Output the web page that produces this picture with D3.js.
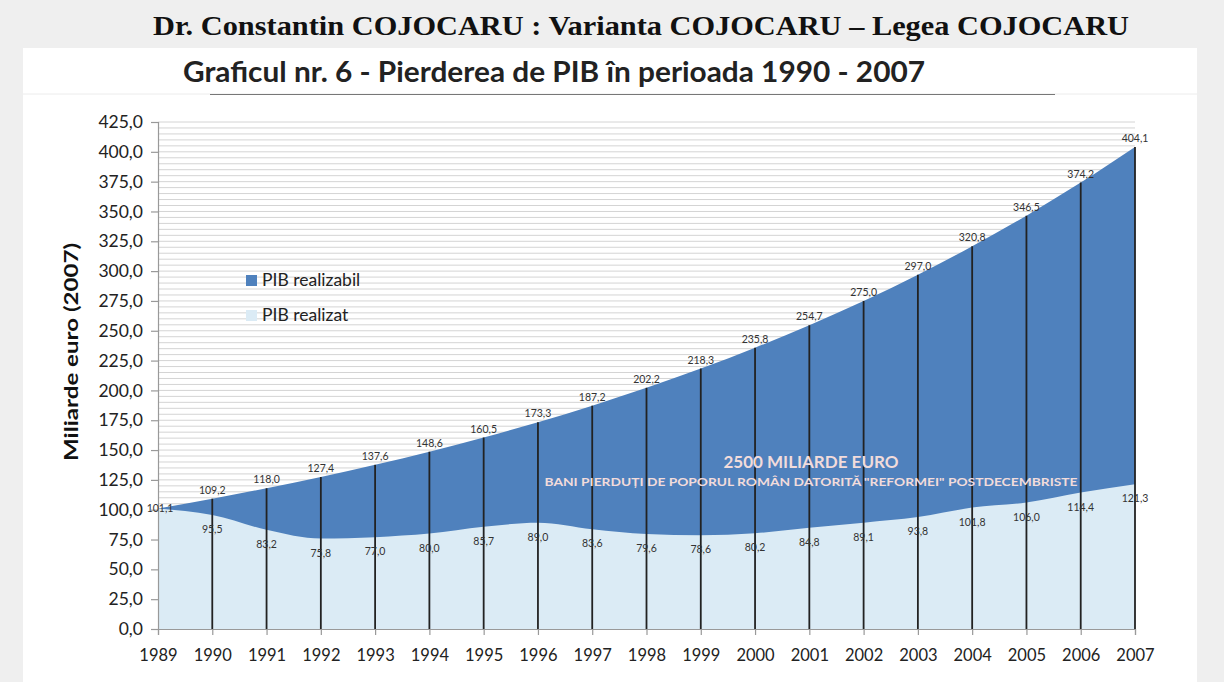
<!DOCTYPE html>
<html><head><meta charset="utf-8">
<script src="https://cdn.jsdelivr.net/npm/d3@7"></script>
<style>
html,body{margin:0;padding:0;background:#efefef;}
svg{display:block;}
</style></head>
<body>
<svg id="c" width="1224" height="682"></svg>
<script>
const years = [1989,1990,1991,1992,1993,1994,1995,1996,1997,1998,1999,2000,2001,2002,2003,2004,2005,2006,2007];
const pibRealizabil = [101.1,109.2,118.0,127.4,137.6,148.6,160.5,173.3,187.2,202.2,218.3,235.8,254.7,275.0,297.0,320.8,346.5,374.2,404.1];
const pibRealizat = [101.1,95.5,83.2,75.8,77.0,80.0,85.7,89.0,83.6,79.6,78.6,80.2,84.8,89.1,93.8,101.8,106.0,114.4,121.3];
const yTicks = d3.range(0, 426, 25);
const gridValues = d3.range(5, 426, 5);
const seriesNames = ["PIB realizabil","PIB realizat"];
const headerText = "Dr. Constantin COJOCARU : Varianta COJOCARU \u2013 Legea COJOCARU";
const titleText = "Graficul nr. 6 - Pierderea de PIB \u00een perioada 1990 - 2007";
const yLabel = "Miliarde euro (2007)";
const noteLine1 = "2500 MILIARDE EURO";
const noteLine2 = "BANI PIERDU\u021AI DE POPORUL ROM\u00C2N DATORIT\u0102 \"REFORMEI\" POSTDECEMBRISTE";

const DARK = "#4f81bd", LIGHT = "#dbebf5";
const sans = "Lato, 'Open Sans', sans-serif";
const loc = d3.formatLocale({decimal: ",", thousands: ".", grouping: [3], currency: ["", ""]});
const f1 = loc.format(".1f");

const svg = d3.select("#c");
// panel
svg.append("rect").attr("x",23).attr("y",48).attr("width",1174).attr("height",640).attr("fill","#fff");
svg.append("line").attr("x1",23).attr("x2",1197).attr("y1",94).attr("y2",94).attr("stroke","#ececec");
svg.append("line").attr("x1",210).attr("x2",1055).attr("y1",94.5).attr("y2",94.5).attr("stroke","#777").attr("stroke-width",1.2);

svg.append("text").attr("x",641).attr("y",35).attr("text-anchor","middle")
  .attr("font-family","'Liberation Serif','Times New Roman',serif").attr("font-weight","bold")
  .attr("font-size",27).attr("fill","#111").attr("textLength",976).attr("lengthAdjust","spacingAndGlyphs").text(headerText);
svg.append("text").attr("x",554).attr("y",82).attr("text-anchor","middle")
  .attr("font-family",sans).attr("font-weight","bold")
  .attr("font-size",28).attr("fill","#222").attr("textLength",742).attr("lengthAdjust","spacingAndGlyphs").text(titleText);

const x = d3.scaleLinear().domain([1989,2007]).range([158,1135]);
const y = d3.scaleLinear().domain([0,425]).range([629,122]);

// grid
svg.append("g").selectAll("line").data(gridValues).join("line")
  .attr("x1",x(1989)).attr("x2",x(2007)).attr("y1",d=>y(d)).attr("y2",d=>y(d))
  .attr("stroke","#d4d4d4").attr("stroke-width",1);

const data = years.map((yr,i)=>({yr, hi:pibRealizabil[i], lo:pibRealizat[i]}));
const curve = d3.curveMonotoneX;
svg.append("path").datum(data).attr("fill",DARK)
  .attr("d", d3.area().x(d=>x(d.yr)).y0(y(0)).y1(d=>y(d.hi)).curve(curve));
svg.append("path").datum(data).attr("fill",LIGHT)
  .attr("d", d3.area().x(d=>x(d.yr)).y0(y(0)).y1(d=>y(d.lo)).curve(curve));

// drop lines
svg.append("g").selectAll("line").data(data.slice(1)).join("line")
  .attr("x1",d=>x(d.yr)).attr("x2",d=>x(d.yr)).attr("y1",y(0)).attr("y2",d=>y(d.hi))
  .attr("stroke","#222").attr("stroke-width",1.8);

// axes
const xAxis = svg.append("g").attr("transform",`translate(0,${y(0)})`)
  .call(d3.axisBottom(x).tickValues(years).tickFormat(d3.format("d")).tickSize(6).tickPadding(14));
const yAxis = svg.append("g").attr("transform",`translate(${x(1989)},0)`)
  .call(d3.axisLeft(y).tickValues(yTicks).tickFormat(f1).tickSize(7).tickPadding(8));
[xAxis,yAxis].forEach(a=>{
  a.select(".domain").attr("stroke","#999").attr("stroke-width",1.2);
  a.selectAll(".tick line").attr("stroke","#999").attr("stroke-width",1.2);
});
xAxis.selectAll("text").attr("font-family",sans).attr("font-size",16.5).attr("fill","#222");
yAxis.selectAll("text").attr("font-family",sans).attr("font-size",17.5).attr("fill","#222");

svg.append("text").attr("transform","translate(78,352) rotate(-90)").attr("text-anchor","middle")
  .attr("font-family",sans).attr("font-weight","bold").attr("font-size",18).attr("fill","#111")
  .attr("textLength",218).attr("lengthAdjust","spacingAndGlyphs").text(yLabel);

// data labels
const lab = svg.append("g").attr("font-family",sans).attr("font-size",10.5).attr("fill","#333").attr("text-anchor","middle");
lab.selectAll(".hi").data(data).join("text").attr("class","hi")
  .attr("x",(d,i)=>i===0 ? x(d.yr)+2 : x(d.yr))
  .attr("y",(d,i)=>i===0 ? y(d.hi)+4 : y(d.hi)-5)
  .text(d=>f1(d.hi));
lab.selectAll(".lo").data(data.slice(1)).join("text").attr("class","lo")
  .attr("x",d=>x(d.yr)).attr("y",d=>y(d.lo)+18)
  .text(d=>f1(d.lo));

// note
svg.append("text").attr("x",811).attr("y",468).attr("text-anchor","middle")
  .attr("font-family",sans).attr("font-weight","bold").attr("font-size",17).attr("fill","#f2dcdb").text(noteLine1);
svg.append("text").attr("x",811).attr("y",486).attr("text-anchor","middle")
  .attr("font-family",sans).attr("font-weight","bold").attr("font-size",12).attr("fill","#f2dcdb")
  .attr("textLength",533).attr("lengthAdjust","spacingAndGlyphs").text(noteLine2);

// legend
const leg = svg.append("g");
[DARK, LIGHT].forEach((c,i)=>{
  leg.append("rect").attr("x",246).attr("y",275+i*35).attr("width",11).attr("height",11).attr("fill",c);
  leg.append("text").attr("x",262).attr("y",286+i*35).attr("font-family",sans).attr("font-size",17.5).attr("fill","#222").text(seriesNames[i]);
});
</script>
</body></html>
